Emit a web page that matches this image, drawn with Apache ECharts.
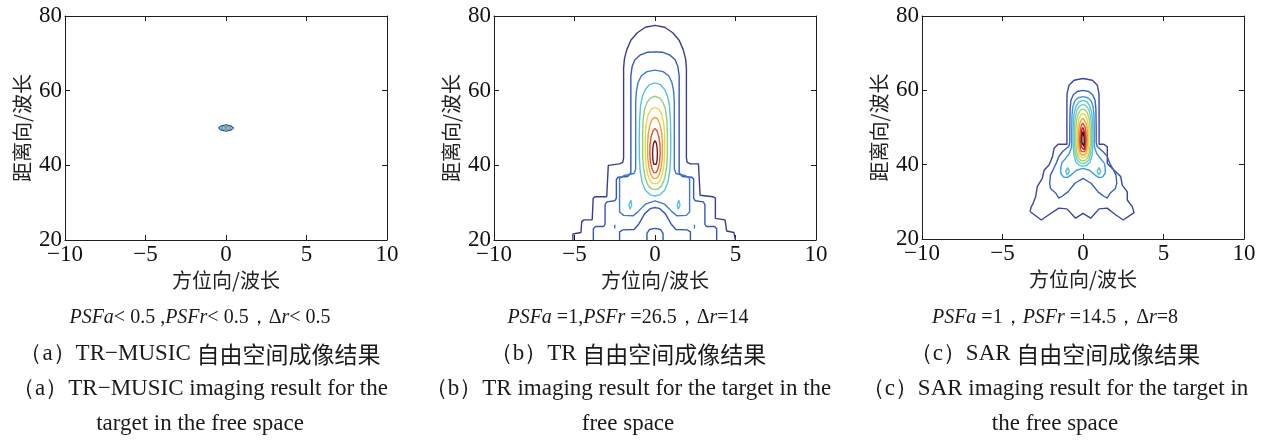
<!DOCTYPE html>
<html>
<head>
<meta charset="utf-8">
<title>自由空间成像结果</title>
<script src="https://cdn.jsdelivr.net/npm/echarts@6/dist/echarts.min.js"></script>
<style>
    html, body {margin:0;padding:0;background:#fff;}
    #chart {width:1264px;height:441px;}
</style>
</head>
<body>
<div id="chart"></div>
<script>
var xTicks = [-10, -5, 0, 5, 10];
var yTicks = [20, 40, 60, 80];
var xName = '方位向/波长';
var yName = '距离向/波长';

// (a) TR-MUSIC: a tiny spot at (0, 50)
var aOuter = [[-0.47,50],[-0.3,50.55],[0,50.85],[0.3,50.55],[0.47,50],[0.3,49.45],[0,49.15],[-0.3,49.45],[-0.47,50]];
var aMid = [[-0.32,50],[-0.18,50.38],[0,50.55],[0.18,50.38],[0.32,50],[0.18,49.62],[0,49.45],[-0.18,49.62],[-0.32,50]];
var aInner = [[-0.17,50],[0,50.28],[0.17,50],[0,49.72],[-0.17,50]];
var aCore = [[-0.07,50],[0,50.12],[0.07,50],[0,49.88],[-0.07,50]];

// (b) TR contours, outer to inner
var bNavy = [[-5.1,20],[-5.1,21.6],[-5.0,22],[-4.6,22],[-4.55,22.4],[-4.55,25],[-4.4,25.4],[-3.9,25.4],[-3.84,25.8],[-3.84,31.2],[-3.7,31.6],[-3.0,31.6],[-2.9,32],[-2.9,40],[-2.8,40.4],[-2.2,40.4],[-2.0,40.8],[-1.95,42],[-1.95,66],[-1.9,68.5],[-1.75,71],[-1.5,73.5],[-1.1,75.5],[-0.6,77],[0,77.5],[0.6,77],[1.1,75.5],[1.5,73.5],[1.75,71],[1.9,68.5],[1.95,66],[1.95,42],[2.0,40.8],[2.2,40.4],[2.7,40.4],[2.8,40],[2.8,32],[2.9,31.6],[3.6,31.6],[3.75,31.2],[3.75,25.8],[3.85,25.4],[4.35,25.4],[4.45,25],[4.45,22.4],[4.5,22],[4.9,22],[5.0,21.6],[5.0,20]];
var bBlue = [[-3.83,20],[-3.83,23],[-3.7,23.6],[-3.2,23.6],[-3.1,24.2],[-3.1,29.5],[-3.0,30.2],[-2.5,30.5],[-2.4,31.2],[-2.4,36.2],[-2.3,36.8],[-1.7,37],[-1.5,38],[-1.5,64],[-1.42,66.5],[-1.25,68.3],[-0.9,69.6],[-0.45,70.3],[0,70.4],[0.45,70.3],[0.9,69.6],[1.25,68.3],[1.42,66.5],[1.5,64],[1.5,38],[1.7,37],[2.3,36.8],[2.4,36.2],[2.4,31.2],[2.5,30.5],[3.0,30.2],[3.1,29.5],[3.1,24.2],[3.2,23.6],[3.7,23.6],[3.83,23],[3.83,20]];
var bBlueDip = [[-2.2,20],[-2.2,22.2],[-2.0,22.7],[-1.3,22.8],[-1.0,24.3],[-0.65,27],[-0.3,28.4],[0,28.7],[0.3,28.4],[0.65,27],[1.0,24.3],[1.3,22.8],[2.0,22.7],[2.2,22.2],[2.2,20]];
var bBlueIsle = [[-0.5,20],[-0.5,21.8],[-0.35,22.8],[0,23.1],[0.35,22.8],[0.5,21.8],[0.5,20]];
var bMid = [[0,65.5],[0.5,65.1],[0.85,64],[1.05,62.2],[1.15,60],[1.2,57],[1.2,39],[1.3,37.8],[1.9,37.2],[2.15,36.5],[2.15,27.5],[1.95,26.6],[1.35,26.5],[1.05,27.6],[0.6,29.6],[0,30.5],[-0.6,29.6],[-1.05,27.6],[-1.35,26.5],[-1.95,26.6],[-2.2,27.5],[-2.2,36.5],[-1.95,37.2],[-1.3,37.8],[-1.2,39],[-1.2,57],[-1.15,60],[-1.05,62.2],[-0.85,64],[-0.5,65.1],[0,65.5]];
var bMidIsleL = [[-2.5,23.1],[-2.45,23.6],[-2.5,24.1],[-2.56,23.6],[-2.5,23.1]];
var bMidIsleR = [[2.45,23.1],[2.51,23.6],[2.45,24.1],[2.4,23.6],[2.45,23.1]];
var bBlobL = [[-1.55,28.2],[-1.45,29.4],[-1.5,30.7],[-1.62,29.4],[-1.55,28.2]];
var bBlobR = [[1.45,28.2],[1.55,29.4],[1.48,30.7],[1.38,29.4],[1.45,28.2]];
var bCyan = [[0,62.1],[0.35,61.6],[0.6,60.3],[0.78,58.5],[0.9,56],[0.96,52],[0.98,47],[0.97,42],[0.92,38.5],[0.8,35.5],[0.6,33.3],[0.3,32.1],[0,31.8],[-0.3,32.1],[-0.6,33.3],[-0.8,35.5],[-0.92,38.5],[-0.97,42],[-0.98,47],[-0.96,52],[-0.9,56],[-0.78,58.5],[-0.6,60.3],[-0.35,61.6],[0,62.1]];
var bGreen = [[0,58.5],[0.3,58],[0.5,56.8],[0.65,55],[0.74,52],[0.77,48],[0.77,43],[0.72,39.5],[0.6,36.5],[0.42,34.5],[0.2,33.7],[0,33.5],[-0.2,33.7],[-0.42,34.5],[-0.6,36.5],[-0.72,39.5],[-0.77,43],[-0.77,48],[-0.74,52],[-0.65,55],[-0.5,56.8],[-0.3,58],[0,58.5]];
var bYellow = [[0,55.5],[0.25,55],[0.42,53.6],[0.53,51.5],[0.6,48.5],[0.61,44],[0.57,40.5],[0.46,37.7],[0.3,35.8],[0.12,35.1],[0,34.9],[-0.12,35.1],[-0.3,35.8],[-0.46,37.7],[-0.57,40.5],[-0.61,44],[-0.6,48.5],[-0.53,51.5],[-0.42,53.6],[-0.25,55],[0,55.5]];
var bOrange = [[0,52.9],[0.18,52.3],[0.32,50.8],[0.42,48.5],[0.46,45.5],[0.45,42],[0.38,39.5],[0.25,37.4],[0.1,36.5],[0,36.3],[-0.1,36.5],[-0.25,37.4],[-0.38,39.5],[-0.45,42],[-0.46,45.5],[-0.42,48.5],[-0.32,50.8],[-0.18,52.3],[0,52.9]];
var bRed = [[0,49.9],[0.13,49.2],[0.24,47.6],[0.31,45.5],[0.32,43],[0.28,40.8],[0.18,39],[0.08,38.1],[0,37.9],[-0.08,38.1],[-0.18,39],[-0.28,40.8],[-0.32,43],[-0.31,45.5],[-0.24,47.6],[-0.13,49.2],[0,49.9]];
var bCore = [[0,46.6],[0.08,46],[0.13,44.8],[0.15,43.2],[0.13,41.5],[0.08,40.3],[0,39.8],[-0.08,40.3],[-0.13,41.5],[-0.15,43.2],[-0.13,44.8],[-0.08,46],[0,46.6]];

// (c) SAR contours, outer to inner
var cNavy = [[-3.29,27.4],[-3.22,28.6],[-3.1,29.6],[-2.94,31.4],[-2.84,34.1],[-2.53,36.3],[-2.42,38.5],[-2.11,39.9],[-1.9,42.1],[-1.8,44.4],[-1.55,45.5],[-1.0,45.5],[-1.0,57],[-0.99,59.1],[-0.87,61.4],[-0.56,62.7],[0,63.2],[0.58,62.7],[0.89,61.4],[0.99,59.1],[1.0,57],[1.0,45.5],[1.3,45.5],[1.51,44.8],[1.51,40.3],[1.82,39],[2.34,36.8],[2.44,34.5],[2.75,32.7],[2.75,30.5],[3.06,28.7],[3.17,27.1],[2.5,25.1],[2.0,26.6],[1.5,28.3],[1.0,28.1],[0.48,25.6],[0,26.9],[-0.46,25.6],[-1.0,28.1],[-1.5,28.3],[-2.1,26.6],[-2.59,25.1],[-3.29,27.4]];
var cBlue = [[0,60],[0.35,59.7],[0.6,58.8],[0.75,57.3],[0.8,55],[0.82,50],[0.82,46],[0.88,44.9],[1.2,43.7],[1.5,42.3],[1.65,40.5],[1.9,38.5],[2.05,37.2],[2.1,35],[2.0,33.5],[1.7,32.4],[1.5,31],[1.3,31.5],[0.95,32.6],[0.5,35],[0,36.3],[-0.5,35],[-0.95,32.6],[-1.3,31.5],[-1.5,31],[-1.7,32.4],[-2.02,33.6],[-2.07,35],[-2.02,37.2],[-1.85,38.7],[-1.65,40.5],[-1.5,42.2],[-1.25,43.6],[-0.88,44.9],[-0.82,46],[-0.82,50],[-0.8,55],[-0.75,57.3],[-0.6,58.8],[-0.35,59.7],[0,60]];
var cLight = [[0,58.3],[0.3,58],[0.5,57.2],[0.62,55.8],[0.68,53.5],[0.7,50],[0.7,46],[0.72,44.6],[0.85,43],[1.1,41.6],[1.32,40.4],[1.38,39.2],[1.38,37.7],[1.22,36.7],[1.0,36.5],[0.75,37.2],[0.4,38.5],[0,39.0],[-0.4,38.5],[-0.75,37.2],[-1.0,36.5],[-1.22,36.7],[-1.38,37.7],[-1.38,39.2],[-1.3,40.6],[-1.08,41.7],[-0.85,43],[-0.72,44.6],[-0.7,46],[-0.7,50],[-0.68,53.5],[-0.62,55.8],[-0.5,57.2],[-0.3,58],[0,58.3]];
var cBlobL = [[-0.97,37.2],[-0.85,38.2],[-0.95,39.2],[-1.08,38.2],[-0.97,37.2]];
var cBlobR = [[0.99,37.2],[1.1,38.2],[1.0,39.2],[0.88,38.2],[0.99,37.2]];
var cCyan = [[0,57.3],[0.25,56.9],[0.42,55.8],[0.54,54],[0.6,51.5],[0.62,48],[0.61,45],[0.56,42.5],[0.44,40.7],[0.22,39.8],[0,39.6],[-0.22,39.8],[-0.44,40.7],[-0.56,42.5],[-0.61,45],[-0.62,48],[-0.6,51.5],[-0.54,54],[-0.42,55.8],[-0.25,56.9],[0,57.3]];
var cTeal = [[0,56.2],[0.2,55.8],[0.36,54.8],[0.46,53.2],[0.52,51],[0.53,48],[0.52,45.3],[0.47,43],[0.37,41.3],[0.19,40.5],[0,40.3],[-0.19,40.5],[-0.37,41.3],[-0.47,43],[-0.52,45.3],[-0.53,48],[-0.52,51],[-0.46,53.2],[-0.36,54.8],[-0.2,55.8],[0,56.2]];
var cGreen = [[0,55],[0.17,54.6],[0.3,53.6],[0.39,52.1],[0.44,50],[0.45,47.5],[0.44,45.2],[0.39,43.3],[0.3,41.9],[0.15,41.2],[0,41],[-0.15,41.2],[-0.3,41.9],[-0.39,43.3],[-0.44,45.2],[-0.45,47.5],[-0.44,50],[-0.39,52.1],[-0.3,53.6],[-0.17,54.6],[0,55]];
var cYellow = [[0,53.8],[0.14,53.4],[0.24,52.5],[0.31,51],[0.35,49.2],[0.36,47],[0.35,45],[0.3,43.5],[0.22,42.3],[0.11,41.9],[0,41.8],[-0.11,41.9],[-0.22,42.3],[-0.3,43.5],[-0.35,45],[-0.36,47],[-0.35,49.2],[-0.31,51],[-0.24,52.5],[-0.14,53.4],[0,53.8]];
var cOrange = [[0,52.5],[0.11,52.1],[0.19,51.2],[0.25,49.8],[0.28,48],[0.28,46.2],[0.25,44.5],[0.18,43.2],[0.09,42.6],[0,42.5],[-0.09,42.6],[-0.18,43.2],[-0.25,44.5],[-0.28,46.2],[-0.28,48],[-0.25,49.8],[-0.19,51.2],[-0.11,52.1],[0,52.5]];
var cRed = [[0,51.2],[0.08,50.8],[0.14,49.9],[0.18,48.6],[0.2,47],[0.19,45.5],[0.16,44.3],[0.1,43.5],[0,43.2],[-0.1,43.5],[-0.16,44.3],[-0.19,45.5],[-0.2,47],[-0.18,48.6],[-0.14,49.9],[-0.08,50.8],[0,51.2]];
var cDark = [[0,50],[0.06,49.6],[0.1,48.6],[0.13,47.2],[0.13,46],[0.11,44.8],[0.06,44],[0,43.8],[-0.06,44],[-0.11,44.8],[-0.13,46],[-0.13,47.2],[-0.1,48.6],[-0.06,49.6],[0,50]];
var cCore = [[0,48.9],[0.04,48.4],[0.07,47.3],[0.07,46],[0.05,44.9],[0,44.4],[-0.05,44.9],[-0.07,46],[-0.07,47.3],[-0.04,48.4],[0,48.9]];

var captions = [
    ['{i|PSFa}< 0.5 ,{i|PSFr}< 0.5，Δ{i|r}< 0.5', '（a）TR−MUSIC {c|自由空间成像结果}', '（a）TR−MUSIC imaging result for the', 'target in the free space'],
    ['{i|PSFa} =1,{i|PSFr} =26.5，Δ{i|r}=14', '（b）TR {c|自由空间成像结果}', '（b）TR imaging result for the target in the', 'free space'],
    ['{i|PSFa} =1，{i|PSFr} =14.5，Δ{i|r}=8', '（c）SAR {c|自由空间成像结果}', '（c）SAR imaging result for the target in', 'the free space']
];

var grids = [
    {left: 65, top: 16, width: 322, height: 224},
    {left: 494, top: 16, width: 322, height: 224},
    {left: 922, top: 16, width: 322, height: 223}
];
var capX = [200, 628, 1055];
var capY = [318, 354, 389, 424];

var serif = 'Liberation Serif';
var cjk = 'Noto Sans CJK SC';
var axisColor = '#1e1e1e';

function fmt(v) {
    return String(v).replace('-', '\u2212');
}

var xAxes = [], yAxes = [];
grids.forEach(function(g, i) {
    var xBase = {
        gridIndex: i, type: 'value',
        min: xTicks[0], max: xTicks[xTicks.length - 1], interval: xTicks[1] - xTicks[0],
        axisLine: {show: true, onZero: false, lineStyle: {color: axisColor, width: 1}},
        axisTick: {show: true, inside: true, length: 5, lineStyle: {color: axisColor}},
        splitLine: {show: false}
    };
    var yBase = {
        gridIndex: i, type: 'value',
        min: yTicks[0], max: yTicks[yTicks.length - 1], interval: yTicks[1] - yTicks[0],
        axisLine: {show: true, onZero: false, lineStyle: {color: axisColor, width: 1}},
        axisTick: {show: true, inside: true, length: 5, lineStyle: {color: axisColor}},
        splitLine: {show: false}
    };
    xAxes.push(Object.assign({}, xBase, {
        position: 'bottom',
        axisLabel: {fontFamily: serif, fontSize: 23, color: '#111', margin: 3, showMinLabel: true, showMaxLabel: true, formatter: fmt},
        name: xName, nameLocation: 'middle', nameGap: 28,
        nameTextStyle: {fontFamily: cjk, fontSize: 20, color: '#222'}
    }));
    xAxes.push(Object.assign({}, xBase, {position: 'top', axisLabel: {show: false}}));
    yAxes.push(Object.assign({}, yBase, {
        position: 'left',
        axisLabel: {fontFamily: serif, fontSize: 23, color: '#111', margin: 3, showMinLabel: true, showMaxLabel: true, formatter: fmt},
        name: yName, nameLocation: 'middle', nameGap: 33, nameRotate: 90,
        nameTextStyle: {fontFamily: cjk, fontSize: 20, color: '#222'}
    }));
    yAxes.push(Object.assign({}, yBase, {position: 'right', axisLabel: {show: false}}));
});

var series = [];
function contour(panel, pts, color) {
    series.push({
        type: 'line', xAxisIndex: panel * 2, yAxisIndex: panel * 2,
        data: pts, symbol: 'none', showSymbol: false, smooth: false,
        lineStyle: {color: color, width: 1.4},
        silent: true, animation: false, z: 3
    });
}

contour(0, aOuter, '#3352b5');
contour(0, aMid, '#3fa6df');
contour(0, aInner, '#9fcf4c');
contour(0, aCore, '#e0402a');

contour(1, bNavy, '#3b3d8c');
contour(1, bBlue, '#3556c2');
contour(1, bBlueDip, '#3556c2');
contour(1, bBlueIsle, '#3556c2');
contour(1, bMid, '#3d78d6');
contour(1, bMidIsleL, '#3d78d6');
contour(1, bMidIsleR, '#3d78d6');
contour(1, bBlobL, '#56c3dc');
contour(1, bBlobR, '#56c3dc');
contour(1, bCyan, '#56c3dc');
contour(1, bGreen, '#94cf78');
contour(1, bYellow, '#e8d84a');
contour(1, bOrange, '#f4a03c');
contour(1, bRed, '#e8502e');
contour(1, bCore, '#6b1f18');

contour(2, cNavy, '#3b45a0');
contour(2, cBlue, '#3a5ec8');
contour(2, cLight, '#3f96dc');
contour(2, cBlobL, '#56c3dc');
contour(2, cBlobR, '#56c3dc');
contour(2, cCyan, '#56c3dc');
contour(2, cTeal, '#6fd0b8');
contour(2, cGreen, '#a6d468');
contour(2, cYellow, '#ecd840');
contour(2, cOrange, '#f4a038');
contour(2, cRed, '#ec4a2c');
contour(2, cDark, '#b82020');
contour(2, cCore, '#3a1414');

var graphics = [];
captions.forEach(function(lines, p) {
    lines.forEach(function(t, k) {
        graphics.push({
            type: 'text', x: capX[p], y: capY[k], silent: true,
            style: {
                text: t,
                fontFamily: serif, fontSize: k === 0 ? 20 : 23,
                fill: '#1a1a1a', align: 'center', verticalAlign: 'middle',
                rich: {
                    i: {fontFamily: serif, fontStyle: 'italic', fontSize: 20, fill: '#1a1a1a'},
                    c: {fontFamily: cjk, fontSize: 23, fill: '#1a1a1a'}
                }
            }
        });
    });
});

var chart = echarts.init(document.getElementById('chart'), null, {renderer: 'canvas'});
chart.setOption({
    backgroundColor: '#fff',
    animation: false,
    grid: grids,
    xAxis: xAxes,
    yAxis: yAxes,
    series: series,
    graphic: graphics
});
</script>
</body>
</html>
